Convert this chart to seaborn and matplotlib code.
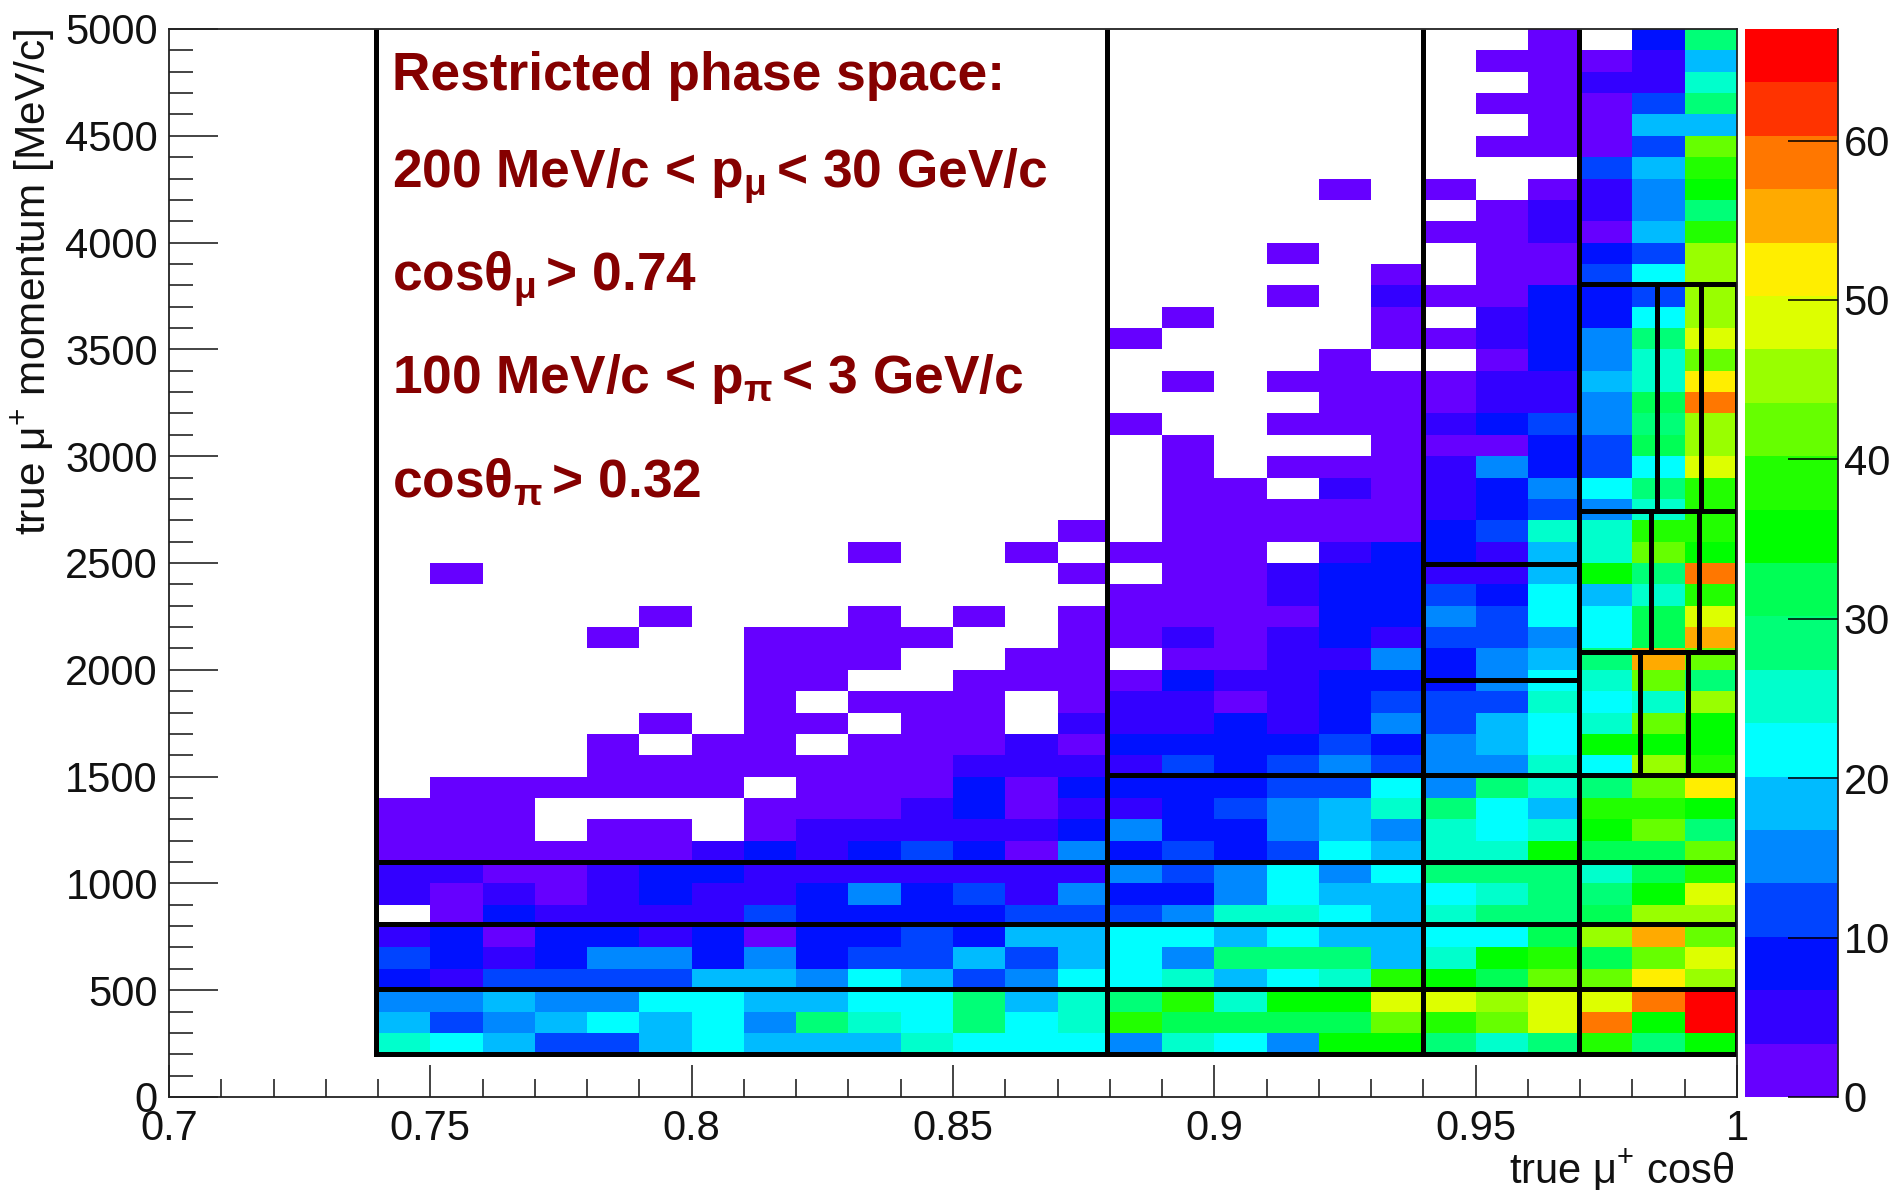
import numpy as np
import pandas as pd
import matplotlib
matplotlib.use("Agg")
import matplotlib.pyplot as plt
from matplotlib.colors import ListedColormap, BoundaryNorm
import seaborn as sns

# ---------- data ----------
cos_edges = [round(0.74 + 0.01 * i, 2) for i in range(26)]
mom_edges = list(range(200, 5000, 100))

# one list per momentum row, bottom (200 MeV/c) to top (4900 MeV/c); 0 = empty bin
r0200 = [25,22,18,12,12,18,22,18,18,18,25,22,22,22, 15,25,22,15,35,35,28,25,28,38,28,35]
r0300 = [18,12,15,18,22,18,22,15,28,25,22,28,22,25, 38,32,32,32,32,42,38,42,49,59,35,65]
r0400 = [15,15,18,15,15,22,22,18,18,22,22,28,18,25, 28,38,25,35,35,49,49,45,49,49,59,65]
r0500 = [8,5,12,12,12,12,18,18,15,22,18,12,15,22, 22,25,18,22,25,38,35,32,42,42,52,45]
r0600 = [12,8,5,8,15,15,8,15,8,12,12,18,12,18, 22,15,28,28,28,18,25,35,38,32,42,49]
r0700 = [5,8,2,8,8,5,8,2,8,8,12,8,18,18, 22,22,18,22,18,18,22,22,32,45,55,42]
r0800 = [0,2,8,5,5,5,5,12,8,8,8,8,12,12, 12,15,25,25,22,18,25,28,28,32,45,45]
r0900 = [5,2,5,2,5,8,5,5,8,15,8,12,5,15, 8,8,15,22,18,18,22,25,28,28,35,49]
r1000 = [5,5,2,2,5,8,8,5,5,5,5,5,5,5, 15,12,15,22,15,22,28,28,28,25,32,38]
r1100 = [2,2,2,2,2,2,5,8,5,8,12,8,2,15, 8,12,8,12,22,18,25,25,35,32,32,42]
r1200 = [2,2,2,0,2,2,0,2,5,5,5,5,5,8, 15,8,8,15,18,15,25,22,25,35,42,28]
r1300 = [2,2,2,0,0,0,0,2,2,2,5,8,2,5, 5,8,12,15,18,25,28,22,18,38,38,35]
r1400 = [0,2,2,2,2,2,2,0,2,2,2,8,2,8, 8,8,8,12,12,22,15,28,25,28,42,52]
r1500 = [0,0,0,0,2,2,2,2,2,2,2,5,5,5, 5,12,8,12,15,12,15,15,25,22,45,38]
r1600 = [0,0,0,0,2,0,2,2,0,2,2,2,5,2, 8,8,8,8,12,8,15,18,22,35,35,35]
r1700 = [0,0,0,0,0,2,0,2,2,0,2,2,0,5, 5,5,8,5,8,15,12,18,22,25,42,35]
r1800 = [0,0,0,0,0,0,0,2,0,2,2,2,0,2, 5,5,2,5,8,12,12,12,25,22,25,45]
r1900 = [0,0,0,0,0,0,0,2,2,0,0,2,2,2, 2,8,5,5,8,8,8,15,22,25,42,28]
r2000 = [0,0,0,0,0,0,0,2,2,2,0,0,2,2, 0,2,2,5,5,15,8,15,18,28,55,42]
r2100 = [0,0,0,0,2,0,0,2,2,2,2,0,0,2, 2,5,2,5,8,5,12,12,15,22,32,55]
r2200 = [0,0,0,0,0,2,0,0,0,2,0,2,0,2, 2,2,2,2,8,8,15,12,22,22,32,49]
r2300 = [0,0,0,0,0,0,0,0,0,0,0,0,0,0, 2,2,2,5,8,8,12,8,22,18,25,38]
r2400 = [0,2,0,0,0,0,0,0,0,0,0,0,0,2, 0,2,2,5,8,8,5,5,18,35,28,59]
r2500 = [0,0,0,0,0,0,0,0,0,2,0,0,2,0, 2,2,2,0,5,8,8,5,18,25,42,35]
r2600 = [0,0,0,0,0,0,0,0,0,0,0,0,0,2, 0,2,2,2,2,2,8,12,25,25,38,38]
r2700 = [0,0,0,0,0,0,0,0,0,0,0,0,0,0, 0,2,2,2,2,2,5,8,12,15,25,38]
r2800 = [0,0,0,0,0,0,0,0,0,0,0,0,0,0, 0,2,2,0,5,2,5,8,15,22,28,38]
r2900 = [0,0,0,0,0,0,0,0,0,0,0,0,0,0, 0,2,0,2,2,2,5,15,8,12,22,49]
r3000 = [0,0,0,0,0,0,0,0,0,0,0,0,0,0, 0,2,0,0,0,2,2,2,8,12,32,45]
r3100 = [0,0,0,0,0,0,0,0,0,0,0,0,0,0, 2,0,0,2,2,2,5,8,12,15,28,45]
r3200 = [0,0,0,0,0,0,0,0,0,0,0,0,0,0, 0,0,0,0,2,2,2,5,5,15,32,59]
r3300 = [0,0,0,0,0,0,0,0,0,0,0,0,0,0, 0,2,0,2,2,2,2,5,5,18,25,52]
r3400 = [0,0,0,0,0,0,0,0,0,0,0,0,0,0, 0,0,0,0,2,0,0,2,8,15,25,42]
r3500 = [0,0,0,0,0,0,0,0,0,0,0,0,0,0, 2,0,0,0,0,2,2,5,8,15,28,49]
r3600 = [0,0,0,0,0,0,0,0,0,0,0,0,0,0, 0,2,0,0,0,2,0,5,8,8,22,45]
r3700 = [0,0,0,0,0,0,0,0,0,0,0,0,0,0, 0,0,0,2,0,5,2,2,8,8,12,45]
r3800 = [0,0,0,0,0,0,0,0,0,0,0,0,0,0, 0,0,0,0,0,2,0,2,2,12,22,45]
r3900 = [0,0,0,0,0,0,0,0,0,0,0,0,0,0, 0,0,0,2,0,0,0,2,2,8,12,45]
r4000 = [0,0,0,0,0,0,0,0,0,0,0,0,0,0, 0,0,0,0,0,0,2,2,5,2,18,38]
r4100 = [0,0,0,0,0,0,0,0,0,0,0,0,0,0, 0,0,0,0,0,0,0,2,5,5,15,28]
r4200 = [0,0,0,0,0,0,0,0,0,0,0,0,0,0, 0,0,0,0,2,0,2,0,2,5,15,35]
r4300 = [0,0,0,0,0,0,0,0,0,0,0,0,0,0, 0,0,0,0,0,0,0,0,0,12,18,38]
r4400 = [0,0,0,0,0,0,0,0,0,0,0,0,0,0, 0,0,0,0,0,0,0,2,2,2,12,42]
r4500 = [0,0,0,0,0,0,0,0,0,0,0,0,0,0, 0,0,0,0,0,0,0,0,2,2,18,18]
r4600 = [0,0,0,0,0,0,0,0,0,0,0,0,0,0, 0,0,0,0,0,0,0,2,2,2,12,28]
r4700 = [0,0,0,0,0,0,0,0,0,0,0,0,0,0, 0,0,0,0,0,0,0,0,2,5,5,25]
r4800 = [0,0,0,0,0,0,0,0,0,0,0,0,0,0, 0,0,0,0,0,0,0,2,2,2,5,18]
r4900 = [0,0,0,0,0,0,0,0,0,0,0,0,0,0, 0,0,0,0,0,0,0,0,2,0,8,28]

rows = [r0200,r0300,r0400,r0500,r0600,r0700,r0800,r0900,r1000,r1100,r1200,r1300,
        r1400,r1500,r1600,r1700,r1800,r1900,r2000,r2100,r2200,r2300,r2400,r2500,
        r2600,r2700,r2800,r2900,r3000,r3100,r3200,r3300,r3400,r3500,r3600,r3700,
        r3800,r3900,r4000,r4100,r4200,r4300,r4400,r4500,r4600,r4700,r4800,r4900]

palette = ["#6600ff","#3300ff","#0011ff","#0044ff","#0088ff","#00bbff","#00ffff",
           "#00ffcc","#00ff77","#00ff55","#00ff00","#22ff00","#66ff00","#99ff00",
           "#ddff00","#ffee00","#ffaa00","#ff7700","#ff3300","#ff0000"]
z_max = 67

# analysis binning drawn over the histogram
h_cuts = [(200, 0.7397, 1.0), (505, 0.7397, 1.0), (808, 0.7397, 1.0), (1100, 0.7397, 1.0),
          (1508, 0.8795, 1.0), (1950, 0.94, 0.9697), (2495, 0.94, 0.9697),
          (2085, 0.9697, 1.0), (2745, 0.9697, 1.0), (3805, 0.9697, 1.0)]
v_cuts = [(0.7397, 200, 5000), (0.8795, 200, 5000), (0.94, 200, 5000), (0.9697, 200, 5000),
          (1.0, 200, 3805),
          (0.9814, 1508, 2085), (0.9906, 1508, 2085),
          (0.9836, 2085, 2745), (0.9927, 2085, 2745),
          (0.9847, 2745, 3805), (0.9931, 2745, 3805)]

x_major = [0.7, 0.75, 0.8, 0.85, 0.9, 0.95, 1.0]
x_major_labels = ["0.7", "0.75", "0.8", "0.85", "0.9", "0.95", "1"]
y_major = [0, 500, 1000, 1500, 2000, 2500, 3000, 3500, 4000, 4500, 5000]
x_minor = [round(0.7 + 0.01 * i, 2) for i in range(31)]
y_minor = list(range(0, 5001, 100))
z_ticks = [0, 10, 20, 30, 40, 50, 60]

notes = ["Restricted phase space:",
         "200 MeV/c < p$_{\\mu\\!}$ < 30 GeV/c",
         "cosθ$_{\\mu\\!}$ > 0.74",
         "100 MeV/c < p$_{\\pi\\!}$ < 3 GeV/c",
         "cosθ$_{\\pi\\!}$ > 0.32"]
note_baselines_px = [90, 188, 291, 393, 497]

# ---------- drawing ----------
sns.set_theme(style="white")
plt.rcParams["font.family"] = ["Liberation Sans", "DejaVu Sans"]
plt.rcParams["mathtext.default"] = "regular"

W, H = 1893, 1190
L, R, T, B = 169, 1737, 29, 1097
fig = plt.figure(figsize=(W / 100, H / 100), dpi=100, facecolor="white")
ax = fig.add_axes([L / W, 1 - B / H, (R - L) / W, (B - T) / H])
cax = fig.add_axes([1745 / W, 1 - B / H, (1838 - 1745) / W, (B - T) / H])

df = pd.DataFrame(rows, index=mom_edges, columns=cos_edges)
cmap = ListedColormap(palette)
norm = BoundaryNorm(np.linspace(0, z_max, len(palette) + 1), len(palette))
sns.heatmap(df, ax=ax, cbar_ax=cax, mask=df == 0, cmap=cmap, norm=norm,
            xticklabels=False, yticklabels=False, linewidths=0,
            cbar_kws={"ticks": z_ticks})

# heatmap cells sit at integer index positions: convert axis values to cell units
def cx(v):
    return (np.asarray(v, dtype=float) - cos_edges[0]) / (cos_edges[1] - cos_edges[0])

def cy(v):
    return (np.asarray(v, dtype=float) - mom_edges[0]) / (mom_edges[1] - mom_edges[0])

ax.set_xlim(cx(0.7), cx(1.0))
ax.set_ylim(cy(0), cy(5000))

FS = 30
ax.set_xticks(cx(x_major))
ax.set_xticklabels(x_major_labels, fontsize=FS, rotation=0, color="#111111")
ax.set_yticks(cy(y_major))
ax.set_yticklabels([str(v) for v in y_major], fontsize=FS, rotation=0, color="#111111")
ax.set_xticks(cx(x_minor), minor=True)
ax.set_yticks(cy(y_minor), minor=True)
ax.tick_params(axis="x", which="major", direction="in", length=23, width=1.1, pad=9,
               bottom=True, top=False, color="#111111")
ax.tick_params(axis="x", which="minor", direction="in", length=13, width=1.1,
               bottom=True, top=False, color="#111111")
ax.tick_params(axis="y", which="major", direction="in", length=35, width=1.1, pad=8,
               left=True, right=False, color="#111111")
ax.tick_params(axis="y", which="minor", direction="in", length=17, width=1.1,
               left=True, right=False, color="#111111")
for s in ax.spines.values():
    s.set_visible(True)
    s.set_linewidth(1.3)
    s.set_color("#222222")

ax.set_xlabel("true μ$^{+}$ cosθ", fontsize=30, loc="right", color="#111111")
ax.xaxis.set_label_coords(0.9985, -0.047)
ax.set_ylabel("true μ$^{+}$ momentum [MeV/c]", fontsize=30.5, loc="top", color="#111111")
ax.yaxis.set_label_coords(-0.0715, 1.0)

for y, x0, x1 in h_cuts:
    ax.plot(cx([x0, x1]), cy([y, y]), color="black", lw=3.6, solid_capstyle="projecting")
for x, y0, y1 in v_cuts:
    ax.plot(cx([x, x]), cy([y0, y1]), color="black", lw=3.6, solid_capstyle="butt")

for text, base in zip(notes, note_baselines_px):
    ax.text((392 - L) / (R - L), (B - base) / (B - T), text, transform=ax.transAxes,
            fontsize=38.3, fontweight="bold", color="#850000", va="baseline", ha="left")

cb = ax.collections[0].colorbar
cb.outline.set_linewidth(0)
cb.minorticks_off()
cax.set_axisbelow(False)
cax.tick_params(axis="y", which="major", direction="in", length=36, width=1.1, pad=4,
                right=True, left=False, labelsize=FS, color="black", labelcolor="#111111")
cax.spines["right"].set_visible(True)
cax.spines["right"].set_linewidth(1.3)
cax.spines["right"].set_color("#222222")
cax.set_yticklabels([str(v) for v in z_ticks])

fig.savefig("out.png", dpi=100, facecolor="white")
